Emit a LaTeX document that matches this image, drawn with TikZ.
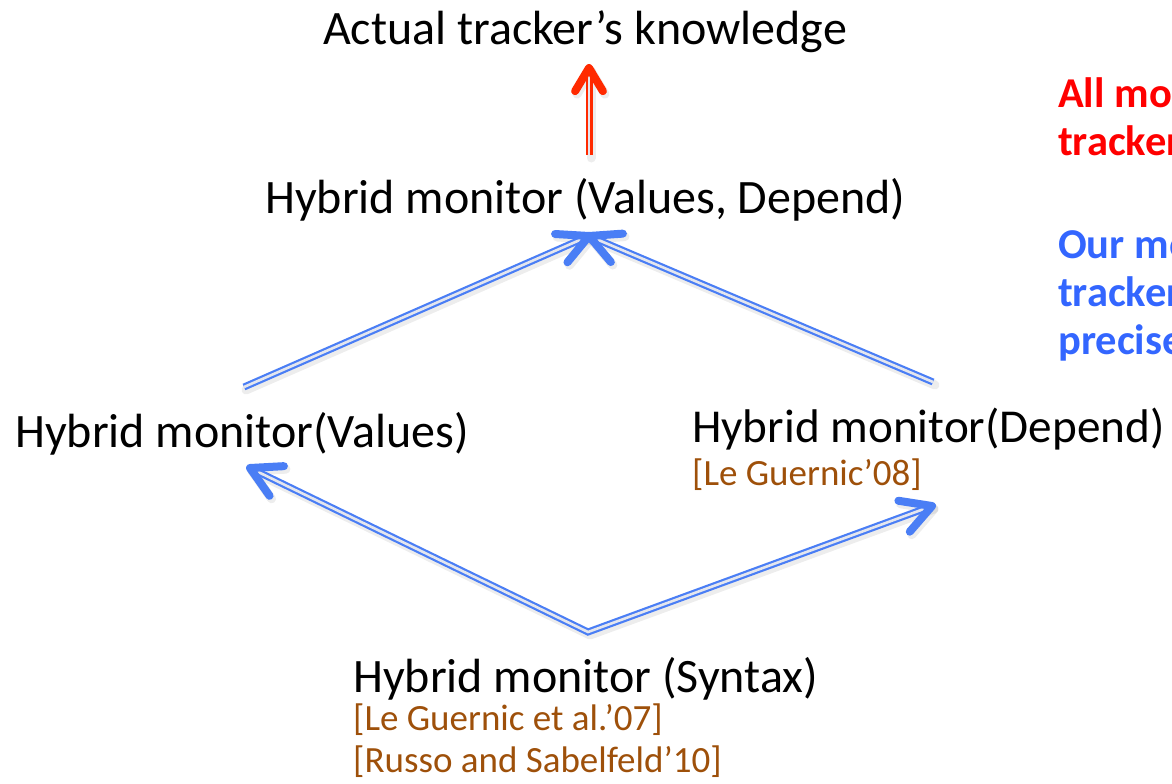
\documentclass[tikz,border=0pt]{standalone}
\usepackage{fontspec}
\setmainfont{Carlito}
\usetikzlibrary{calc}

\definecolor{linkblue}{RGB}{74,126,245}
\definecolor{linkred}{RGB}{255,42,0}
\definecolor{citebrown}{RGB}{158,80,10}
\definecolor{noteblue}{RGB}{51,102,255}
\definecolor{notered}{RGB}{255,0,0}
\definecolor{gapgray}{RGB}{228,230,238}

\begin{document}
\begin{tikzpicture}[x=1pt,y=-1pt,
  label/.style={anchor=base west, inner sep=0pt, font=\fontsize{48}{58}\selectfont},
  cite/.style={anchor=base west, inner sep=0pt, text=citebrown, font=\fontsize{37}{44}\selectfont},
  note/.style={anchor=base west, inner sep=0pt, font=\bfseries\fontsize{42.5}{51}\selectfont},
  shaft/.style={draw=#1, line width=2.2pt, double=gapgray, double distance=2.6pt},
  barb/.style={draw=#1, line width=8pt, line cap=round, line join=round},
  haze/.style={draw=black, opacity=0.07, line width=9pt, line cap=round, line join=round,
    transform canvas={shift={(2pt,-3pt)}}}
]
\useasboundingbox (0,0) rectangle (1172,784);
\clip (0,0) rectangle (1172,784);

% ---- labels ----
\node[label] (actual) at (323,45) {Actual tracker’s knowledge};
\node[label] (both)   at (265,213) {Hybrid monitor (Values, Depend)};
\node[label] (values) at (15,447) {Hybrid monitor(Values)};
\node[label, font=\fontsize{47.2}{57}\selectfont] (depend) at (692,442) {Hybrid monitor(Depend)};
\node[cite]  (lg08)   at (692,485) {[Le Guernic’08]};
\node[label] (syntax) at (353,692) {Hybrid monitor (Syntax)};
\node[cite]  (lg07)   at (353,730) {[Le Guernic et al.’07]};
\node[cite]  (rs10)   at (353,772) {[Russo and Sabelfeld’10]};

% ---- side notes (running off the right edge) ----
\node[note, text=notered]  (n1) at (1058,107) {All mo};
\node[note, text=notered]  (n2) at (1058,155) {tracker};
\node[note, text=noteblue] (n3) at (1058,258) {Our mo};
\node[note, text=noteblue] (n4) at (1058,306) {tracker};
\node[note, text=noteblue] (n5) at (1058,354) {precise};

% ---- arrow end points ----
\coordinate (redTail)  at (589,155);
\coordinate (redTip)   at (589,68);
\coordinate (apex)     at (589,236);
\coordinate (valTail)  at (244,387);
\coordinate (depTail)  at (933,382);
\coordinate (base)     at (588,632);
\coordinate (valTip)   at (250,468);
\coordinate (depTip)   at (932,506);

% soft shadows
\draw[haze] (redTail) -- (redTip);
\draw[haze] ($(redTip)!27pt!31:(redTail)$) -- (redTip) -- ($(redTip)!27pt!-31:(redTail)$);
\draw[haze] (valTail) -- (apex);
\draw[haze] (depTail) -- (apex);
\draw[haze] (valTip) -- (base) -- (depTip);
\draw[haze] ($(apex)!34pt!27:(valTail)$) -- (apex) -- ($(apex)!34pt!-27:(valTail)$);
\draw[haze] ($(apex)!34pt!27:(depTail)$) -- (apex) -- ($(apex)!34pt!-27:(depTail)$);
\draw[haze] ($(valTip)!34pt!29:(base)$) -- (valTip) -- ($(valTip)!34pt!-29:(base)$);
\draw[haze] ($(depTip)!34pt!29:(base)$) -- (depTip) -- ($(depTip)!34pt!-29:(base)$);

% red arrow to the tracker's knowledge
\draw[shaft=linkred] (redTail) -- (redTip);
\draw[barb=linkred] ($(redTip)!27pt!31:(redTail)$) -- (redTip) -- ($(redTip)!27pt!-31:(redTail)$);

% blue arrows into the combined monitor
\draw[shaft=linkblue] (valTail) -- (apex);
\draw[shaft=linkblue] (depTail) -- (apex);
\draw[barb=linkblue] ($(apex)!34pt!27:(valTail)$) -- (apex) -- ($(apex)!34pt!-27:(valTail)$);
\draw[barb=linkblue] ($(apex)!34pt!27:(depTail)$) -- (apex) -- ($(apex)!34pt!-27:(depTail)$);

% blue arrows out of the syntax monitor
\draw[shaft=linkblue] (valTip) -- (base) -- (depTip);
\draw[barb=linkblue] ($(valTip)!34pt!29:(base)$) -- (valTip) -- ($(valTip)!34pt!-29:(base)$);
\draw[barb=linkblue] ($(depTip)!34pt!29:(base)$) -- (depTip) -- ($(depTip)!34pt!-29:(base)$);
\end{tikzpicture}
\end{document}
